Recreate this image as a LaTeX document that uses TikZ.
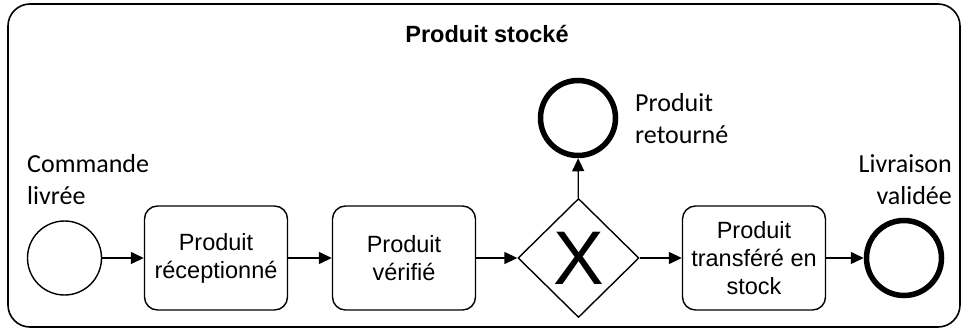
\documentclass[tikz,border=0pt]{standalone}
\usepackage{fontspec}
\setmainfont{Liberation Sans}
\newfontfamily\evfont{Carlito}
\usetikzlibrary{shapes.geometric,arrows.meta,positioning}

\tikzset{
  tasknode/.style={draw,rounded corners=13pt,line width=1.4pt,minimum width=143pt,
    minimum height=104pt,align=center,inner sep=2pt,
    font=\fontsize{23.5}{28}\selectfont},
  startev/.style={draw,circle,line width=1.4pt,minimum size=74pt,inner sep=0pt},
  endev/.style={draw,circle,line width=5.5pt,minimum size=75pt,inner sep=0pt},
  gatenode/.style={draw,diamond,line width=1.4pt,minimum width=121pt,
    minimum height=119pt,inner sep=0pt},
  evlabel/.style={inner sep=0pt,font=\evfont\fontsize{26}{32}\selectfont},
  flow/.style={line width=1.4pt,-{Triangle[length=13pt,width=12pt]}}
}

\begin{document}
\begin{tikzpicture}[x=1pt,y=-1pt]

% canvas, same proportions as 963x329
\path[use as bounding box] (0,0) rectangle (963,329);

% sub-process frame
\draw[line width=1.6pt,rounded corners=22pt] (8,4) rectangle (960,327);
\node[font=\bfseries\fontsize{23.5}{28}\selectfont,anchor=base] (title) at (487,42) {Produit stocké};

% events, tasks and gateway
\node[startev] (cmd) at (64.5,258) {};
\node[tasknode] (recu) at (216,258) {Produit\\réceptionné};
\node[tasknode] (verif) at (404,258) {Produit\\vérifié};
\node[gatenode] (choix) at (578.5,258) {};
\node[font=\fontsize{76}{80}\selectfont] (croix) at (choix) {X};
\node[endev] (retour) at (578,118) {};
\node[tasknode] (transf) at (754,258) {Produit\\transféré en\\stock};
\node[endev] (livr) at (904,258) {};

% event labels
\node[evlabel,align=left,anchor=north west] (cmdlbl) at (27,154) {Commande\\livrée};
\node[evlabel,align=left,anchor=north west] (retlbl) at (635,93) {Produit\\retourné};
\node[evlabel,align=right,anchor=north east] (livlbl) at (952,154) {Livraison\\validée};

% sequence flows
\draw[flow] (cmd) -- (recu);
\draw[flow] (recu) -- (verif);
\draw[flow] (verif) -- (choix);
\draw[flow] (choix) -- (retour);
\draw[flow] (choix) -- (transf);
\draw[flow] (transf) -- (livr);

\end{tikzpicture}
\end{document}
